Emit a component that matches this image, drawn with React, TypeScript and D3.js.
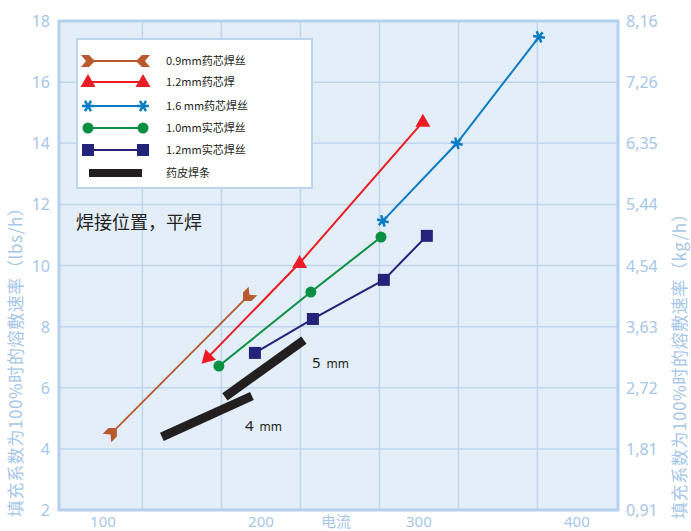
import React from 'react';
import * as d3 from 'd3';

// ---- data ----
const xLabelTicks = [100, 200, 300, 400];
const xGridTicks = [125, 175, 225, 275, 325, 375];
const yTicks = [2, 4, 6, 8, 10, 12, 14, 16, 18];
const yRightLabels = ['0,91', '1,81', '2,72', '3,63', '4,54', '5,44', '6,35', '7,26', '8,16'];

const fc09 = [[105.7, 4.52], [191.8, 9.0]];
const fc12 = [[166, 6.97], [224.5, 10.08], [302.5, 14.7]];
const fc16 = [[277.2, 11.46], [324, 14.0], [376, 17.48]];
const sw10 = [[173.4, 6.71], [231.6, 9.13], [276, 10.93]];
const sw12 = [[196.2, 7.14], [232.9, 8.25], [277.8, 9.53], [305, 10.97]];
const stick5 = [[177.2, 5.7], [227.2, 7.56]];
const stick4 = [[137.3, 4.39], [194.3, 5.73]];

const legendLabels = ['0.9mm药芯焊丝', '1.2mm药芯焊', '1.6 mm药芯焊丝', '1.0mm实芯焊丝', '1.2mm实芯焊丝', '药皮焊条'];

const W = 691;
const H = 531;
const plot = { left: 59, right: 618, top: 21, bottom: 510 };

const BROWN = '#b85a2e';
const RED = '#ec1c24';
const BLUE = '#0a7cc4';
const GREEN = '#0b8f42';
const NAVY = '#23237a';
const AXIS_TXT = '#a6c6e8';
const GRID = '#bfd6ee';
const FONT = '"Noto Sans", "Noto Sans CJK SC", sans-serif';
const CJK = '"Noto Sans CJK SC", sans-serif';

type Pt = number[];

const chevron = 'M-7,-6 L1,-6 L7,0 L1,6 L-7,6 L-2,0 Z';
const triangle = 'M0,-8 L7.5,5 L-7.5,5 Z';
const asterisk = (r: number) =>
  [0, 60, 120].map(a => {
    const t = (a * Math.PI) / 180;
    return `M${-r * Math.cos(t)},${-r * Math.sin(t)}L${r * Math.cos(t)},${r * Math.sin(t)}`;
  }).join('');

const ang = (a: number[], b: number[]) => (Math.atan2(b[1] - a[1], b[0] - a[0]) * 180) / Math.PI;

export default function App() {
  const x = d3.scaleLinear().domain([72.2, 426]).range([plot.left, plot.right]);
  const y = d3.scaleLinear().domain([2, 18]).range([plot.bottom, plot.top]);
  const line = d3.line<Pt>().x(d => x(d[0])).y(d => y(d[1]));
  const px = (d: Pt) => [x(d[0]), y(d[1])];

  const b0 = px(fc09[0]);
  const b1 = px(fc09[1]);
  const f16 = fc16.map(px);

  const legendY = [61, 82, 106, 128, 150, 173];
  const lx0 = 88;
  const lx1 = 143;

  return (
    <svg width={W} height={H} style={{ position: 'absolute', left: 0, top: 0, background: '#fff' }}>
      {/* plot area */}
      <rect x={plot.left} y={plot.top} width={plot.right - plot.left} height={plot.bottom - plot.top} fill="#e3eef8" />
      {yTicks.map(t => (
        <line key={'gy' + t} x1={plot.left} x2={plot.right} y1={y(t)} y2={y(t)} stroke={GRID} strokeWidth={1.5} />
      ))}
      {xGridTicks.map(t => (
        <line key={'gx' + t} x1={x(t)} x2={x(t)} y1={plot.top} y2={plot.bottom} stroke={GRID} strokeWidth={1.5} />
      ))}
      <rect x={plot.left} y={plot.top} width={plot.right - plot.left} height={plot.bottom - plot.top} fill="none" stroke="#b5d0ee" strokeWidth={3} />

      {/* axis labels */}
      {yTicks.map(t => (
        <text key={'yl' + t} x={50} y={y(t) + 6} textAnchor="end" fontSize={16} fill={AXIS_TXT} fontFamily={FONT}>{t}</text>
      ))}
      {yTicks.map((t, i) => (
        <text key={'yr' + t} x={626} y={y(t) + 6} fontSize={16} fill={AXIS_TXT} fontFamily={FONT}>{yRightLabels[i]}</text>
      ))}
      {xLabelTicks.map(t => (
        <text key={'xl' + t} x={x(t)} y={527} textAnchor="middle" fontSize={15} fill={AXIS_TXT} fontFamily={FONT}>{t}</text>
      ))}
      <text x={336} y={527} textAnchor="middle" fontSize={15} fill={AXIS_TXT} fontFamily={CJK}>电流</text>
      <text transform="translate(22,517) rotate(-90)" fontSize={17} letterSpacing={0.6} fill={AXIS_TXT} fontFamily={CJK}>填充系数为100%时的熔敷速率（lbs/h）</text>
      <text transform="translate(686,519) rotate(-90)" fontSize={17} letterSpacing={0.6} fill={AXIS_TXT} fontFamily={CJK}>填充系数为100%时的熔敷速率（kg/h）</text>

      {/* legend */}
      <rect x={77} y={39} width={235} height={149} fill="#fff" stroke="#bcd4ee" strokeWidth={2} />
      <line x1={lx0} x2={lx1} y1={legendY[0]} y2={legendY[0]} stroke={BROWN} strokeWidth={2} />
      <path d={chevron} transform={`translate(${lx0},${legendY[0]})`} fill={BROWN} />
      <path d={chevron} transform={`translate(${lx1},${legendY[0]}) rotate(180)`} fill={BROWN} />
      <line x1={lx0} x2={lx1} y1={legendY[1]} y2={legendY[1]} stroke={RED} strokeWidth={2} />
      <path d={triangle} transform={`translate(${lx0},${legendY[1]})`} fill={RED} />
      <path d={triangle} transform={`translate(${lx1},${legendY[1]})`} fill={RED} />
      <line x1={lx0 - 3} x2={lx1 + 5} y1={legendY[2]} y2={legendY[2]} stroke={BLUE} strokeWidth={2} />
      <path d={asterisk(6)} transform={`translate(${lx0},${legendY[2]})`} stroke={BLUE} strokeWidth={2.5} />
      <path d={asterisk(6)} transform={`translate(${lx1},${legendY[2]})`} stroke={BLUE} strokeWidth={2.5} />
      <line x1={lx0} x2={lx1} y1={legendY[3]} y2={legendY[3]} stroke={GREEN} strokeWidth={2} />
      <circle cx={lx0} cy={legendY[3]} r={5.5} fill={GREEN} />
      <circle cx={lx1} cy={legendY[3]} r={5.5} fill={GREEN} />
      <line x1={lx0} x2={lx1} y1={legendY[4]} y2={legendY[4]} stroke={NAVY} strokeWidth={2} />
      <rect x={lx0 - 6} y={legendY[4] - 6} width={12} height={12} fill={NAVY} />
      <rect x={lx1 - 6} y={legendY[4] - 6} width={12} height={12} fill={NAVY} />
      <line x1={89} x2={142} y1={legendY[5]} y2={legendY[5]} stroke="#231f20" strokeWidth={8} />
      {legendLabels.map((s, i) => (
        <text key={s} x={166} y={legendY[i] + 4} fontSize={11} fill="#231f20" fontFamily={CJK}>{s}</text>
      ))}

      <text x={76} y={229} fontSize={18} fill="#231f20" fontFamily={CJK}>焊接位置，平焊</text>

      {/* stick electrodes */}
      <path d={line(stick5) ?? ''} stroke="#231f20" strokeWidth={9} fill="none" />
      <path d={line(stick4) ?? ''} stroke="#231f20" strokeWidth={9} fill="none" />
      <text x={312} y={368} fontSize={15} fill="#231f20" fontFamily={FONT}>5<tspan dx={6} fontSize={12}>mm</tspan></text>
      <text x={245} y={431} fontSize={15} fill="#231f20" fontFamily={FONT}>4<tspan dx={6} fontSize={12}>mm</tspan></text>

      {/* 0.9 mm flux cored */}
      <path d={line(fc09) ?? ''} stroke={BROWN} strokeWidth={1.8} fill="none" />
      <path d={chevron} transform={`translate(${b0[0]},${b0[1]}) rotate(${ang(b0, b1)})`} fill={BROWN} />
      <path d={chevron} transform={`translate(${b1[0]},${b1[1]}) rotate(${ang(b1, b0)})`} fill={BROWN} />

      {/* 1.2 mm flux cored */}
      <path d={line(fc12) ?? ''} stroke={RED} strokeWidth={2} fill="none" />
      {fc12.map((d, i) => (
        <path key={'r' + i} d={triangle} fill={RED}
          transform={`translate(${x(d[0])},${y(d[1])})${i === 0 ? ' rotate(-135)' : ''}`} />
      ))}

      {/* 1.6 mm flux cored */}
      <path d={line(fc16) ?? ''} stroke={BLUE} strokeWidth={2} fill="none" />
      {f16.map((p, i) => (
        <path key={'b' + i} d={asterisk(6)} stroke={BLUE} strokeWidth={2.5}
          transform={`translate(${p[0]},${p[1]}) rotate(${ang(f16[Math.max(0, i - 1)], f16[Math.max(1, i)])})`} />
      ))}

      {/* 1.0 mm solid wire */}
      <path d={line(sw10) ?? ''} stroke={GREEN} strokeWidth={2} fill="none" />
      {sw10.map((d, i) => (
        <circle key={'g' + i} cx={x(d[0])} cy={y(d[1])} r={5.5} fill={GREEN} />
      ))}

      {/* 1.2 mm solid wire */}
      <path d={line(sw12) ?? ''} stroke={NAVY} strokeWidth={2} fill="none" />
      {sw12.map((d, i) => (
        <rect key={'n' + i} x={x(d[0]) - 6} y={y(d[1]) - 6} width={12} height={12} fill={NAVY} />
      ))}
    </svg>
  );
}
